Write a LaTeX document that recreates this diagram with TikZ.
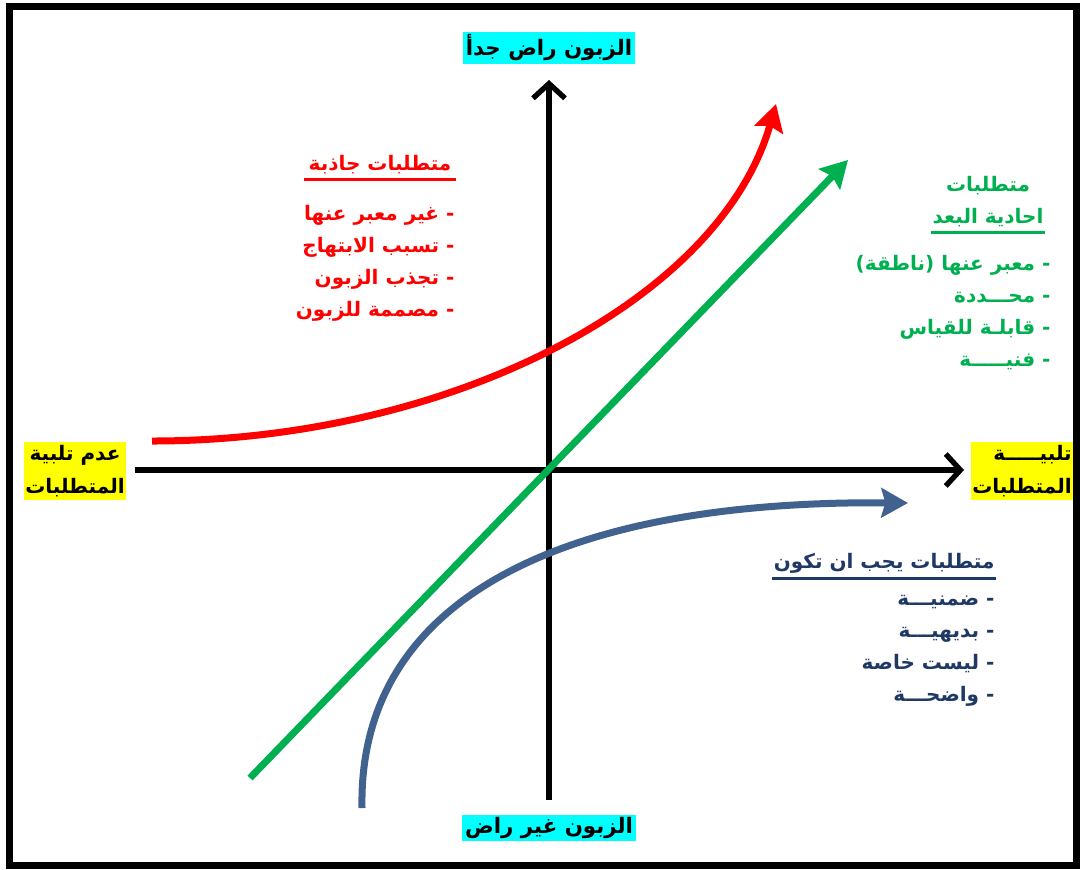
\documentclass[tikz,border=0pt]{standalone}
\usepackage{fontspec}
\usetikzlibrary{arrows.meta}
\TeXXeTstate=1
\newfontfamily\arabicfont[Script=Arabic]{DejaVu Sans}
\newcommand\artext[1]{\beginR #1\endR}
\definecolor{reqred}{HTML}{FF0000}
\definecolor{reqgreen}{HTML}{00B050}
\definecolor{curveblue}{HTML}{41628F}
\definecolor{textblue}{HTML}{1F3864}
\definecolor{tagcyan}{HTML}{00FFFF}
\definecolor{tagyellow}{HTML}{FFFF00}

\begin{document}
\begin{tikzpicture}[x=0.75pt, y=-0.75pt,
  txt/.style = {font=\arabicfont\bfseries\fontsize{15}{24}\selectfont, inner sep=1pt},
  tag/.style = {font=\arabicfont\bfseries\fontsize{16}{25}\selectfont, inner sep=2pt},
  side/.style = {tag, font=\arabicfont\bfseries\fontsize{15}{25}\selectfont, inner xsep=1pt, fill=tagyellow},
  axis/.style = {line width=4pt, -{Straight Barb[length=11pt,width=24pt]}},
  curve/.style = {line width=5.25pt, -{Stealth[length=20pt,width=22pt,inset=3pt]}}]
	\useasboundingbox (0,0) rectangle (1080,869);
	\draw[line width=5.25pt] (9.5,6.5) rectangle (1076,865);
	% axes
	\coordinate (xl) at (135,470);
	\coordinate (xr) at (964,470);
	\coordinate (yb) at (549,800);
	\coordinate (yt) at (549,80);
	\draw[axis] (xl) -- (xr);
	\draw[axis] (yb) -- (yt);
	% curves
	\coordinate (r0) at (152,441);
	\coordinate (r1) at (776,104);
	\coordinate (g0) at (250,778);
	\coordinate (g1) at (848,160);
	\coordinate (b0) at (362,808);
	\coordinate (b1) at (908,503);
	\draw[curve, reqred] (r0) .. controls (450,441) and (720,300) .. (r1);
	\draw[curve, reqgreen] (g0) -- (g1);
	\draw[curve, curveblue] (b0) .. controls (358,600) and (560,500) .. (b1);
	% labels
	\node[tag, fill=tagcyan] (top) at (549,48) {\artext{الزبون راض جدأ}};
	\node[tag, fill=tagcyan] (bot) at (549,828) {\artext{الزبون غير راض}};
	\node[side, align=center] (left) at (75,471) {\artext{عدم تلبية}\\\artext{المتطلبات}};
	\node[side, align=right] (right) at (1022,471) {\artext{تلبيـــــة}\\\artext{المتطلبات}};
	% requirement groups
	\node[txt, text=reqred, anchor=east] (redhead) at (453,165) {\artext{متطلبات جاذبة}};
	\draw[reqred, line width=2.2pt] ([xshift=-2pt,yshift=-3pt]redhead.south west) -- ([xshift=2pt,yshift=-3pt]redhead.south east);
	\node[txt, text=reqred, align=right, anchor=north east] (redlist) at (456,204)
	  {\artext{- غير معبر عنها}\\\artext{- تسبب الابتهاج}\\\artext{- تجذب الزبون}\\\artext{- مصممة للزبون}};
	\node[txt, text=reqgreen, align=center] (greenhead) at (988,202) {\artext{متطلبات}\\\artext{احادية البعد}};
	\draw[reqgreen, line width=2.2pt] ([yshift=-3pt]greenhead.south west) -- ([yshift=-3pt]greenhead.south east);
	\node[txt, text=reqgreen, align=right, anchor=north east] (greenlist) at (1052,254)
	  {\artext{- معبر عنها (ناطقة)}\\\artext{- محـــددة}\\\artext{- قابلـة للقياس}\\\artext{- فنيـــــة}};
	\node[txt, text=textblue, anchor=east] (bluehead) at (996,563) {\artext{متطلبات يجب ان تكون}};
	\draw[textblue, line width=2.2pt] ([yshift=-3pt]bluehead.south west) -- ([yshift=-3pt]bluehead.south east);
	\node[txt, text=textblue, align=right, anchor=north east] (bluelist) at (996,594)
	  {\artext{- ضمنيـــة}\\\artext{- بديهيـــة}\\\artext{- ليست خاصة}\\\artext{- واضحـــة}};
\end{tikzpicture}
\end{document}
